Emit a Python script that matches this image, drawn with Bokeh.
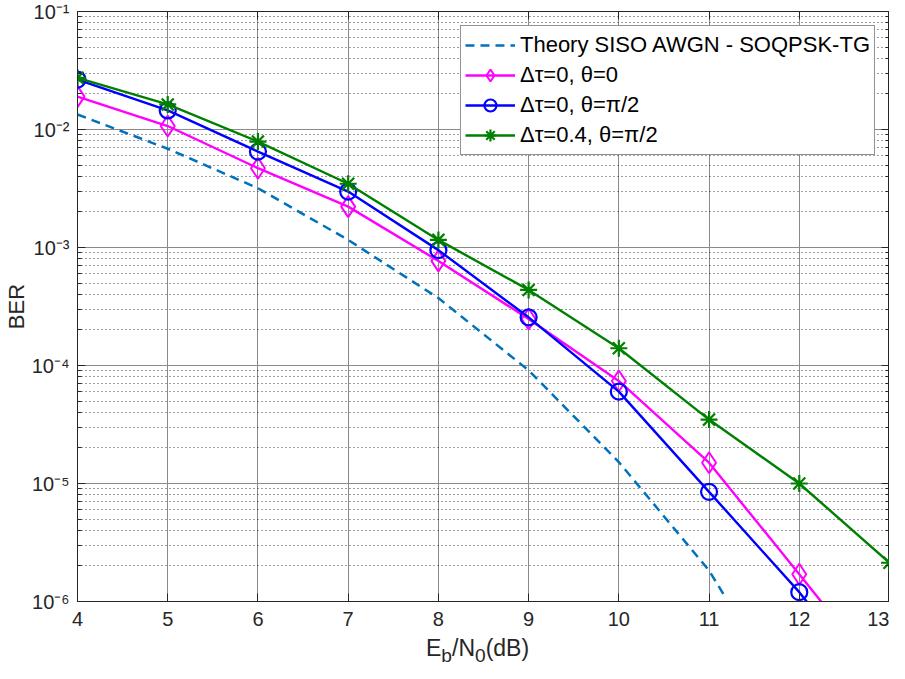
from bokeh.plotting import figure
from bokeh.models import Range1d, FixedTicker, LogAxis, LinearAxis, Div
from bokeh.layouts import column
from bokeh.embed import file_html
from bokeh.resources import INLINE

# ---------------- data ----------------
ebn0 = [4, 5, 6, 7, 8, 9, 10, 11, 12, 13]
ber_dt0_th0 = [1.9e-2, 1.07e-2, 4.7e-3, 2.22e-3, 7.7e-4, 2.48e-4, 7.4e-5, 1.5e-5, 1.7e-6, 1.9e-7]
ber_dt0_thpi2 = [2.65e-2, 1.45e-2, 6.5e-3, 2.98e-3, 9.5e-4, 2.56e-4, 6.0e-5, 8.5e-6, 1.2e-6, 1.3e-7]
ber_dt04_thpi2 = [2.74e-2, 1.63e-2, 7.9e-3, 3.47e-3, 1.16e-3, 4.37e-4, 1.4e-4, 3.48e-5, 1.0e-5, 2.13e-6]
theory_x = [4, 5, 6, 7, 8, 9, 10, 11, 11.17]
theory_ber = [1.34e-2, 6.87e-3, 3.18e-3, 1.16e-3, 3.73e-4, 9.1e-5, 1.52e-5, 1.83e-6, 1.12e-6]

x_ticks = [4, 5, 6, 7, 8, 9, 10, 11, 12, 13]
y_exponents = [-6, -5, -4, -3, -2, -1]

labels = ["Theory SISO AWGN - SOQPSK-TG",
          "\u0394\u03c4=0, \u03b8=0",
          "\u0394\u03c4=0, \u03b8=\u03c0/2",
          "\u0394\u03c4=0.4, \u03b8=\u03c0/2"]

FONT = "Liberation Sans"
AX = "#262626"

y_ticks = [10.0 ** e for e in y_exponents]
y_minor = [m * 10.0 ** e for e in y_exponents[:-1] for m in range(2, 10)]
sup = str.maketrans("-0123456789", "\u207b\u2070\u00b9\u00b2\u00b3\u2074\u2075\u2076\u2077\u2078\u2079")
y_labels = {10.0 ** e: "10" + str(e).translate(sup) for e in y_exponents}

p = figure(width=889, height=636, y_axis_type="log",
           x_range=Range1d(4, 13), y_range=Range1d(1e-6, 1e-1),
           output_backend="svg", toolbar_location=None,
           min_border_left=60, min_border_right=0, min_border_top=11, min_border_bottom=35)
p.background_fill_color = "white"
p.border_fill_color = "white"
p.outline_line_color = AX
p.outline_line_width = 1

xt = FixedTicker(ticks=x_ticks, minor_ticks=[])
yt = FixedTicker(ticks=y_ticks, minor_ticks=y_minor)

p.xaxis.ticker = xt
p.yaxis.ticker = yt
p.xgrid.ticker = xt
p.ygrid.ticker = yt

for ax in p.xaxis + p.yaxis:
    ax.axis_line_color = AX
    ax.major_tick_line_color = AX
    ax.minor_tick_line_color = AX
    ax.major_tick_in = 8
    ax.major_tick_out = 0
    ax.minor_tick_in = 4
    ax.minor_tick_out = 0
    ax.major_label_text_font = FONT
    ax.major_label_text_font_size = "20px"
    ax.major_label_text_color = AX
    ax.axis_label_text_font = FONT
    ax.axis_label_text_font_style = "normal"
    ax.axis_label_text_color = AX

p.xaxis.major_label_standoff = 10
p.yaxis.major_label_standoff = 8
p.yaxis.major_label_overrides = y_labels
p.yaxis.axis_label = "BER"
p.yaxis.axis_label_text_font_size = "22px"
p.yaxis.axis_label_standoff = 0

# top / right box axes with inward ticks
top = LinearAxis(ticker=xt, major_label_overrides={t: "" for t in x_ticks},
                 major_tick_in=8, major_tick_out=0, minor_tick_in=0, minor_tick_out=0,
                 axis_line_color=AX, major_tick_line_color=AX, major_label_standoff=0)
right = LogAxis(ticker=yt, major_label_overrides={t: "" for t in y_ticks},
                major_tick_in=8, major_tick_out=0, minor_tick_in=4, minor_tick_out=0,
                axis_line_color=AX, major_tick_line_color=AX, minor_tick_line_color=AX,
                major_label_standoff=0)
p.add_layout(top, "above")
p.add_layout(right, "right")

# grids
p.xgrid.grid_line_color = "#8a8a8a"
p.xgrid.grid_line_width = 1
p.ygrid.grid_line_color = "#8a8a8a"
p.ygrid.grid_line_width = 1
p.ygrid.minor_grid_line_color = "#3a3a3a"
p.ygrid.minor_grid_line_dash = "1 3"
p.ygrid.minor_grid_line_width = 1

# series
p.line(theory_x, theory_ber, line_color="#0072BD", line_width=2.5, line_dash="9 6",
       legend_label=labels[0])

p.line(ebn0, ber_dt0_th0, line_color="#FF00FF", line_width=2.4, legend_label=labels[1])
p.scatter(ebn0, ber_dt0_th0, marker="diamond", size=21, fill_color=None,
          line_color="#FF00FF", line_width=2, legend_label=labels[1])

p.line(ebn0, ber_dt0_thpi2, line_color="#0000FF", line_width=2.4, legend_label=labels[2])
p.scatter(ebn0, ber_dt0_thpi2, marker="circle", size=16, fill_color=None,
          line_color="#0000FF", line_width=2.2, legend_label=labels[2])

p.line(ebn0, ber_dt04_thpi2, line_color="#008000", line_width=2.4, legend_label=labels[3])
p.scatter(ebn0, ber_dt04_thpi2, marker="asterisk", size=17,
          line_color="#008000", line_width=2.2, legend_label=labels[3])

lg = p.legend[0]
lg.location = "top_right"
lg.margin = 14
lg.padding = 4
lg.spacing = 0
lg.glyph_width = 50
lg.glyph_height = 30
lg.label_height = 30
lg.label_standoff = 5
lg.label_text_font = FONT
lg.label_text_font_size = "22px"
lg.label_text_color = "black"
lg.border_line_color = AX
lg.border_line_width = 1
lg.background_fill_alpha = 1

# x axis label with real subscripts
xlabel = Div(text="E<sub>b</sub>/N<sub>0</sub>(dB)", width=889, height=35, margin=0,
             styles={"font-family": FONT, "font-size": "23px", "color": AX,
                     "padding-left": "426px", "line-height": "1.1"})

layout = column(p, xlabel, spacing=0)
open("out.html", "w").write(file_html(layout, INLINE))
